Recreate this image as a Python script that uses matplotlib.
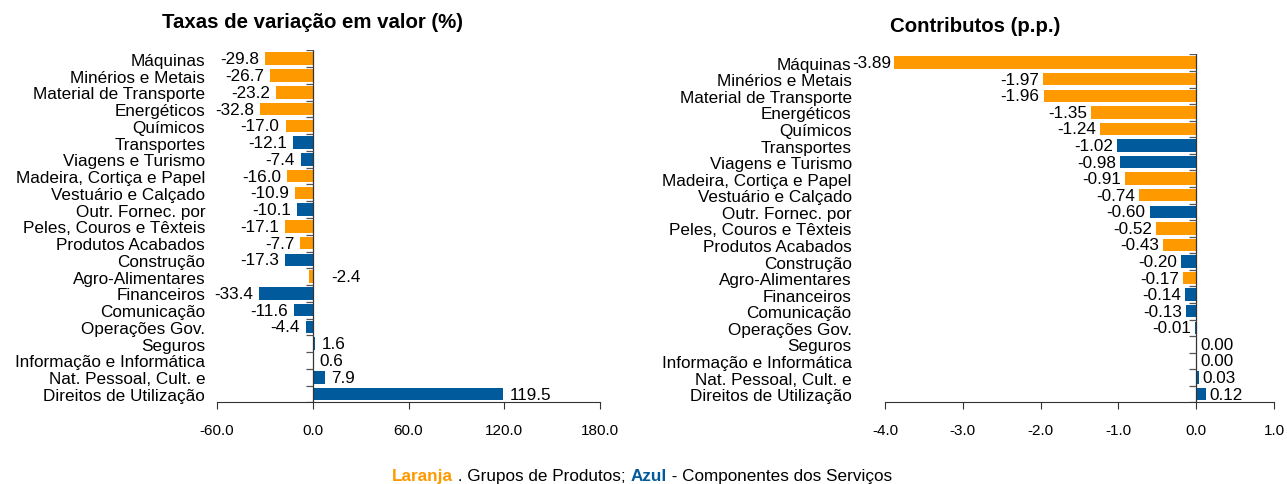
import numpy as np
import matplotlib.pyplot as plt

plt.rcParams['font.family'] = ['Liberation Sans', 'DejaVu Sans']

categories = ['Máquinas', 'Minérios e Metais', 'Material de Transporte', 'Energéticos',
              'Químicos', 'Transportes', 'Viagens e Turismo', 'Madeira, Cortiça e Papel',
              'Vestuário e Calçado', 'Outr. Fornec. por', 'Peles, Couros e Têxteis',
              'Produtos Acabados', 'Construção', 'Agro-Alimentares', 'Financeiros',
              'Comunicação', 'Operações Gov.', 'Seguros', 'Informação e Informática',
              'Nat. Pessoal, Cult. e', 'Direitos de Utilização']
# 'p' = grupo de produtos (laranja), 's' = componente dos serviços (azul)
group = ['p', 'p', 'p', 'p', 'p', 's', 's', 'p', 'p', 's', 'p',
         'p', 's', 'p', 's', 's', 's', 's', 's', 's', 's']
taxas = [-29.8, -26.7, -23.2, -32.8, -17.0, -12.1, -7.4, -16.0, -10.9, -10.1, -17.1,
         -7.7, -17.3, -2.4, -33.4, -11.6, -4.4, 1.6, 0.6, 7.9, 119.5]
contributos = [-3.89, -1.97, -1.96, -1.35, -1.24, -1.02, -0.98, -0.91, -0.74, -0.60, -0.52,
               -0.43, -0.20, -0.17, -0.14, -0.13, -0.01, 0.00, 0.00, 0.03, 0.12]

ORANGE = '#FF9900'
BLUE = '#005A9C'
colors = [ORANGE if g == 'p' else BLUE for g in group]
n = len(categories)
y = np.arange(n)
FS = 12.3

fig = plt.figure(figsize=(12.87, 4.85), dpi=100)


def draw_panel(rect, values, xlim, xticks, fmt, label_pad_pt, off_px, small_left=None):
    ax = fig.add_axes(rect)
    ax.barh(y, values, height=0.75, color=colors)
    ax.set_xlim(*xlim)
    ax.set_ylim(n - 0.5, -0.5)
    for s in ['top', 'right', 'left']:
        ax.spines[s].set_visible(False)
    ax.spines['bottom'].set_color('#333333')
    ax.set_xticks(xticks)
    ax.set_xticklabels([f'{t:.1f}' for t in xticks],
                       family=['Liberation Sans Narrow', 'Liberation Sans'], fontsize=11)
    ax.tick_params(axis='x', length=5, pad=10, color='#333333')
    ax.set_yticks(y)
    ax.set_yticklabels(categories, fontsize=FS)
    ax.tick_params(axis='y', length=0, pad=label_pad_pt)
    # eixo vertical no zero com marcas entre categorias
    ax.plot([0, 0], [-0.5, n - 0.5], color='#333333', lw=0.9)
    ax.plot(np.zeros(n + 1), np.arange(n + 1) - 0.5, ls='none', marker=0,
            ms=5, color='#555555', mew=0.9)
    xmin = xlim[0]
    for i, v in enumerate(values):
        left = v < 0 and not (small_left is not None and v > small_left)
        if left:
            # rótulo junto ao limite esquerdo fica mais encostado à barra
            off = 2 if (v - xmin) < 0.05 * (xlim[1] - xmin) else off_px
            ax.annotate(fmt.format(v), (v, i), xytext=(-off, 0), textcoords='offset pixels',
                        ha='right', va='center', fontsize=FS)
        else:
            ax.annotate(fmt.format(v), (max(v, 0), i), xytext=(off_px + (12 if v < 0 else 0), 0),
                        textcoords='offset pixels', ha='left', va='center', fontsize=FS)
    return ax


draw_panel([217 / 1287, 81.6 / 485, 383 / 1287, 352 / 485], taxas, (-60, 180),
           [-60, 0, 60, 120, 180], '{:.1f}', 8.5, 6, small_left=-3)
draw_panel([885 / 1287, 81.6 / 485, 389 / 1287, 348 / 485], contributos, (-4, 1),
           [-4, -3, -2, -1, 0, 1], '{:.2f}', 24, 4)

fig.text(313 / 1287, 1 - 22 / 485, 'Taxas de variação em valor (%)', ha='center', va='center',
         fontsize=14.7, fontweight='bold')
fig.text(975 / 1287, 1 - 27 / 485, 'Contributos (p.p.)', ha='center', va='center',
         fontsize=14.7, fontweight='bold')

# rodapé com palavras coloridas
pieces = [('Laranja', ORANGE, 'bold'), (' . Grupos de Produtos; ', 'black', 'normal'),
          ('Azul', BLUE, 'bold'), (' - Componentes dos Serviços', 'black', 'normal')]
fig.canvas.draw()
renderer = fig.canvas.get_renderer()
x = 392
for txt, col, w in pieces:
    t = fig.text(x / 1287, 8 / 485, txt, color=col, fontweight=w, fontsize=FS,
                 ha='left', va='center')
    x = t.get_window_extent(renderer).x1

fig.savefig('out.png', dpi=100)
